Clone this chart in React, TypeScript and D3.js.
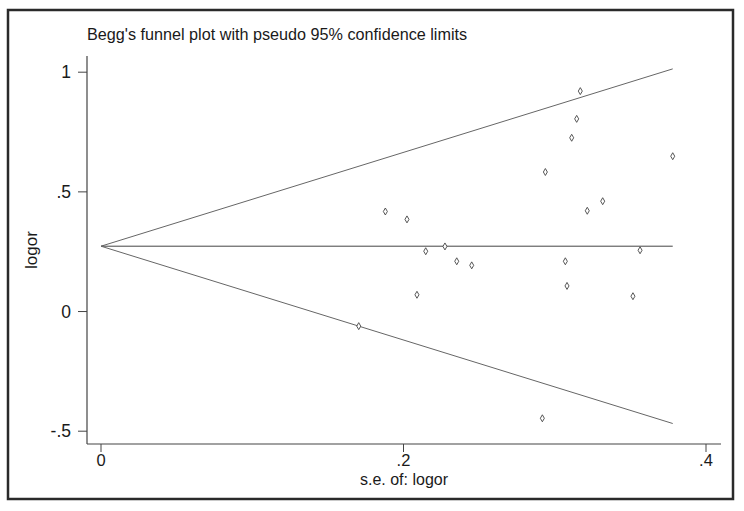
import * as d3 from 'd3';
import React, { useEffect, useRef } from 'react';

// study standard errors and log odds ratios
const seValues = [0.3169, 0.3145, 0.3112, 0.378, 0.2938, 0.188, 0.2023, 0.3215, 0.3317, 0.2147,
    0.2274, 0.2352, 0.2451, 0.307, 0.3564, 0.2089, 0.3081, 0.3517, 0.1704, 0.2918];
const logorValues = [0.921, 0.805, 0.726, 0.649, 0.583, 0.418, 0.385, 0.421, 0.461, 0.252,
    0.272, 0.210, 0.193, 0.210, 0.256, 0.070, 0.107, 0.064, -0.061, -0.446];
const pooledLogor = 0.273;
const maxSe = 0.378;
const xTicks = [0, 0.2, 0.4];
const yTicks = [-0.5, 0, 0.5, 1];
const titleText = "Begg's funnel plot with pseudo 95% confidence limits";

const fmt = (v: number) => {
    if (v === 0) return '0';
    return String(v).replace('0.', '.');
};

function App() {
    const ref = useRef<SVGSVGElement>(null);

    useEffect(() => {
        const svg = d3.select(ref.current);
        svg.selectAll('*').remove();

        const font = 'Liberation Sans, Arial, sans-serif';
        const x = d3.scaleLinear().domain([0, 0.4]).range([101, 706]);
        const y = d3.scaleLinear().domain([-0.5, 1]).range([431.2, 72.2]);

        // outer frame
        svg.append('rect')
            .attr('x', 8).attr('y', 10)
            .attr('width', 725).attr('height', 489)
            .attr('fill', 'white')
            .attr('stroke', '#2a2a2a')
            .attr('stroke-width', 2.5);

        svg.append('text')
            .attr('x', 87).attr('y', 40)
            .attr('font-family', font)
            .attr('font-size', 16.2)
            .attr('fill', '#1a1a1a')
            .text(titleText);

        // axes lines (offset from data region)
        const axisLeft = 87, axisBottom = 444, axisRight = 721, axisTop = 56;
        svg.append('line')
            .attr('x1', axisLeft).attr('x2', axisLeft)
            .attr('y1', axisTop).attr('y2', axisBottom)
            .attr('stroke', '#444').attr('stroke-width', 1.2);
        svg.append('line')
            .attr('x1', axisLeft).attr('x2', axisRight)
            .attr('y1', axisBottom).attr('y2', axisBottom)
            .attr('stroke', '#444').attr('stroke-width', 1.2);

        const yt = svg.append('g');
        yt.selectAll('line').data(yTicks).join('line')
            .attr('x1', axisLeft - 9).attr('x2', axisLeft)
            .attr('y1', d => y(d)).attr('y2', d => y(d))
            .attr('stroke', '#444');
        yt.selectAll('text').data(yTicks).join('text')
            .attr('x', 71).attr('y', d => y(d) + 6)
            .attr('text-anchor', 'end')
            .attr('font-family', font)
            .attr('font-size', 17.5)
            .attr('fill', '#1a1a1a')
            .text(d => fmt(d));

        const xt = svg.append('g');
        xt.selectAll('line').data(xTicks).join('line')
            .attr('x1', d => x(d)).attr('x2', d => x(d))
            .attr('y1', axisBottom).attr('y2', axisBottom + 8)
            .attr('stroke', '#444');
        xt.selectAll('text').data(xTicks).join('text')
            .attr('x', d => x(d)).attr('y', 466)
            .attr('text-anchor', 'middle')
            .attr('font-family', font)
            .attr('font-size', 16.5)
            .attr('fill', '#1a1a1a')
            .text(d => fmt(d));

        svg.append('text')
            .attr('x', 404).attr('y', 485)
            .attr('text-anchor', 'middle')
            .attr('font-family', font)
            .attr('font-size', 16)
            .attr('fill', '#1a1a1a')
            .text('s.e. of: logor');

        svg.append('text')
            .attr('transform', 'translate(37,250) rotate(-90)')
            .attr('text-anchor', 'middle')
            .attr('font-family', font)
            .attr('font-size', 17)
            .attr('fill', '#1a1a1a')
            .text('logor');

        // funnel: pooled estimate and pseudo 95% limits
        const seRange = [0, maxSe];
        const line = d3.line<number[]>().x(d => x(d[0])).y(d => y(d[1]));
        const limits = [
            seRange.map(s => [s, pooledLogor + 1.96 * s]),
            seRange.map(s => [s, pooledLogor]),
            seRange.map(s => [s, pooledLogor - 1.96 * s]),
        ];
        svg.append('g').selectAll('path').data(limits).join('path')
            .attr('d', d => line(d))
            .attr('fill', 'none')
            .attr('stroke', (d, i) => (i === 1 ? '#444' : '#666'))
            .attr('stroke-width', 1);

        const points = seValues.map((s, i) => ({ se: s, logor: logorValues[i] }));
        svg.append('g').selectAll('path').data(points).join('path')
            .attr('d', d3.symbol().type(d3.symbolDiamond).size(14))
            .attr('transform', d => `translate(${x(d.se)},${y(d.logor)})`)
            .attr('fill', 'white')
            .attr('stroke', '#444')
            .attr('stroke-width', 0.9);
    }, []);

    return (
        <svg ref={ref} width={744} height={511}
            style={{ position: 'absolute', left: 0, top: 0, background: 'white' }} />
    );
}

export default App;
